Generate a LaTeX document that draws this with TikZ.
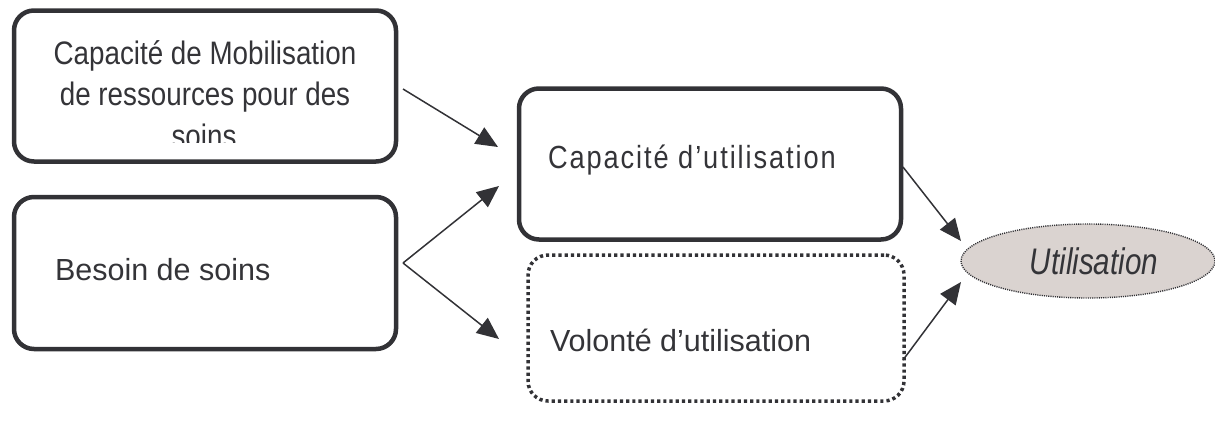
\documentclass[tikz,border=0pt]{standalone}
\usepackage{fontspec}
\setmainfont{Liberation Sans}
\newfontfamily\narrowfont[FakeStretch=0.855]{Liberation Sans}
\newfontfamily\spacedfont[FakeStretch=0.85,LetterSpace=6]{Liberation Sans}
\newfontfamily\italnarrow[FakeStretch=0.8]{Liberation Sans}
\usetikzlibrary{arrows.meta,shapes.geometric}
\definecolor{ink}{RGB}{50,50,54}
\definecolor{txt}{RGB}{52,52,56}
\definecolor{ellfill}{RGB}{218,211,208}
\tikzset{
  solidbox/.style={draw=ink, line width=4.5pt, rounded corners=20pt, inner sep=0pt, outer sep=0pt},
  dotbox/.style={draw=ink, line width=3.5pt, dash pattern=on 3.2pt off 3pt, rounded corners=20pt, inner sep=0pt, outer sep=0pt},
  lbl/.style={text=txt, inner sep=0pt, outer sep=0pt},
  conn/.style={draw=ink, line width=1.5pt, -{Triangle[length=22pt,width=19pt]}},
}
\begin{document}
\begin{tikzpicture}[x=1pt,y=-1pt]
\useasboundingbox (0,0) rectangle (1215,423);
% boxes
\node[solidbox, minimum width=382pt, minimum height=151pt] (b1) at (205,86) {};
\node[solidbox, minimum width=382pt, minimum height=152pt] (b2) at (205,273) {};
\node[solidbox, minimum width=382pt, minimum height=151pt] (b3) at (710,164) {};
\node[dotbox, minimum width=376pt, minimum height=146pt] (b4) at (716,328) {};
\node[ellipse, draw=ink, line width=1.4pt, dash pattern=on 1.1pt off 1.1pt, fill=ellfill,
      minimum width=254pt, minimum height=74pt, inner sep=0pt] (u) at (1088,261) {};
\node[lbl, font=\fontsize{37}{40}\selectfont\italnarrow\itshape] (ut) at (1094,261) {Utilisation};
% texts
\node[lbl, anchor=base, font=\fontsize{32.5}{38}\selectfont\narrowfont] (t1a) at (205,64) {Capacité de Mobilisation};
\node[lbl, anchor=base, font=\fontsize{32.5}{38}\selectfont\narrowfont] (t1b) at (205,105) {de ressources pour des};
\begin{scope}
\clip (20,0) rectangle (390,142);
\node[lbl, anchor=base, font=\fontsize{32.5}{38}\selectfont\narrowfont] (t1c) at (204,147) {soins};
\end{scope}
\node[lbl, anchor=base west, font=\fontsize{30.5}{36}\selectfont] (t2) at (55,280) {Besoin de soins};
\node[lbl, anchor=base west, font=\fontsize{32}{36}\selectfont\spacedfont] (t3) at (548,168) {Capacité d’utilisation};
\node[lbl, anchor=base west, font=\fontsize{30.5}{36}\selectfont] (t4) at (550,351) {Volonté d’utilisation};
% connector ends
\coordinate (s1) at (403,89);
\coordinate (e1) at (498,147);
\coordinate (s2) at (403,263);
\coordinate (e2) at (499,186);
\coordinate (e3) at (499,339);
\coordinate (s4) at (903,167);
\coordinate (e4) at (961,241);
\coordinate (s5) at (903,360);
\coordinate (e5) at (961,282);
\draw[conn] (s1) -- (e1);
\draw[conn] (s2) -- (e2);
\draw[conn] (s2) -- (e3);
\draw[conn] (s4) -- (e4);
\draw[conn] (s5) -- (e5);
\end{tikzpicture}
\end{document}
